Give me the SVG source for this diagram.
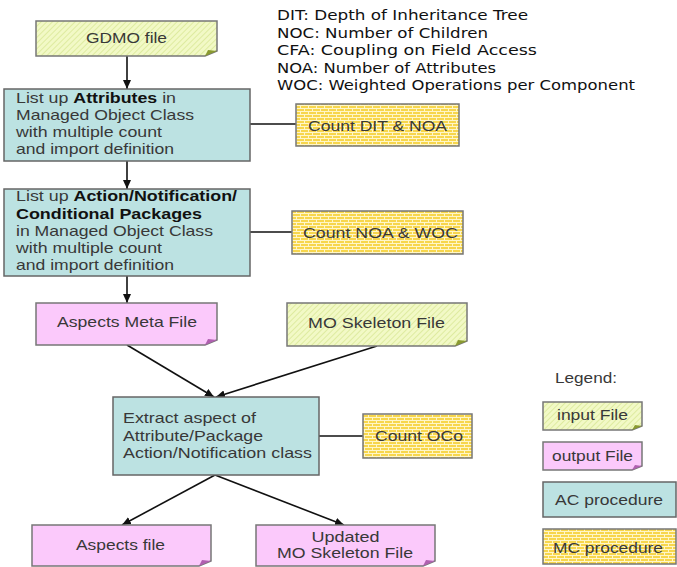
<svg xmlns="http://www.w3.org/2000/svg" width="677" height="567" viewBox="0 0 677 567">
<defs>
<pattern id="hatch" width="4" height="4" patternUnits="userSpaceOnUse" patternTransform="rotate(45)">
<rect width="4" height="4" fill="#f2f9c6"/>
<line x1="0" y1="0" x2="0" y2="4" stroke="#d6e690" stroke-width="1.4"/>
</pattern>
<pattern id="brick" width="8" height="6" patternUnits="userSpaceOnUse">
<rect width="8" height="6" fill="#f7d64c"/>
<line x1="0" y1="0.5" x2="8" y2="0.5" stroke="#fff6c8" stroke-width="1"/>
<line x1="0" y1="3.5" x2="8" y2="3.5" stroke="#fff6c8" stroke-width="1"/>
<line x1="0.5" y1="0" x2="0.5" y2="3" stroke="#fff6c8" stroke-width="1"/>
<line x1="4.5" y1="3" x2="4.5" y2="6" stroke="#fff6c8" stroke-width="1"/>
</pattern>
<marker id="arr" markerWidth="9" markerHeight="8" refX="9" refY="4" orient="auto" markerUnits="userSpaceOnUse">
<path d="M0,0 L9,4 L0,8 Z" fill="#111"/>
</marker>
</defs>
<style>
.t{font-family:"Liberation Sans",Arial,sans-serif;font-size:15px;fill:#383838}
.c{text-anchor:middle}
.b{font-weight:bold;fill:#111}
.leg{font-family:"DejaVu Sans","Liberation Sans",sans-serif;font-size:14px;fill:#111}
.ac{fill:#bce2e2;stroke:#666;stroke-width:1.5}
.mc{fill:url(#brick);stroke:#777;stroke-width:1.5}
.in{fill:url(#hatch);stroke:#777;stroke-width:1.5}
.out{fill:#fbc9fb;stroke:#777;stroke-width:1.5}
.fin{fill:#8a9a30}
.fout{fill:#b060b0}
.ln{stroke:#111;stroke-width:1.6;fill:none}
</style>
<rect width="677" height="567" fill="#fff"/>

<g id="abbrev">
<text class="leg" x="277" y="20" textLength="251" lengthAdjust="spacingAndGlyphs">DIT: Depth of Inheritance Tree</text>
<text class="leg" x="277" y="37.5" textLength="211" lengthAdjust="spacingAndGlyphs">NOC: Number of Children</text>
<text class="leg" x="277" y="55" textLength="260" lengthAdjust="spacingAndGlyphs">CFA: Coupling on Field Access</text>
<text class="leg" x="277" y="72.5" textLength="219" lengthAdjust="spacingAndGlyphs">NOA: Number of Attributes</text>
<text class="leg" x="277" y="90" textLength="358" lengthAdjust="spacingAndGlyphs">WOC: Weighted Operations per Component</text>
</g>

<g id="connectors">
<line class="ln" x1="127" y1="56" x2="127" y2="89" marker-end="url(#arr)"/>
<line class="ln" x1="127" y1="161" x2="127" y2="189" marker-end="url(#arr)"/>
<line class="ln" x1="127" y1="276" x2="127" y2="303" marker-end="url(#arr)"/>
<line class="ln" x1="127" y1="345" x2="214" y2="397" marker-end="url(#arr)"/>
<line class="ln" x1="377" y1="346" x2="216" y2="397" marker-end="url(#arr)"/>
<line class="ln" x1="250" y1="124" x2="296" y2="124"/>
<line class="ln" x1="250" y1="232" x2="292" y2="232"/>
<line class="ln" x1="319" y1="436" x2="363" y2="436"/>
<line class="ln" x1="215" y1="475" x2="122" y2="525" marker-end="url(#arr)"/>
<line class="ln" x1="215" y1="475" x2="344" y2="525" marker-end="url(#arr)"/>
</g>

<g id="gdmo">
<path class="in" d="M36,21 H217 V51 L205,56 H36 Z"/>
<path class="fin" d="M217,51 L205,56 L208,50 Z"/>
<text class="t c" x="126.5" y="43" textLength="81" lengthAdjust="spacingAndGlyphs">GDMO file</text>
</g>

<g id="attr">
<rect class="ac" x="4" y="89" width="246" height="72"/>
<text class="t" x="16" y="103" textLength="160" lengthAdjust="spacingAndGlyphs">List up <tspan class="b">Attributes</tspan> in</text>
<text class="t" x="16" y="120" textLength="178" lengthAdjust="spacingAndGlyphs">Managed Object Class</text>
<text class="t" x="16" y="137" textLength="146" lengthAdjust="spacingAndGlyphs">with multiple count</text>
<text class="t" x="16" y="154" textLength="158" lengthAdjust="spacingAndGlyphs">and import definition</text>
</g>

<g id="count1">
<rect class="mc" x="296" y="104" width="163" height="42"/>
<text class="t c" x="377.5" y="131" textLength="139" lengthAdjust="spacingAndGlyphs">Count DIT &amp; NOA</text>
</g>

<g id="pkg">
<rect class="ac" x="4" y="189" width="246" height="87"/>
<text class="t" x="16" y="201" textLength="221" lengthAdjust="spacingAndGlyphs">List up <tspan class="b">Action/Notification/</tspan></text>
<text class="t b" x="16" y="219" textLength="186" lengthAdjust="spacingAndGlyphs">Conditional Packages</text>
<text class="t" x="16" y="236" textLength="197" lengthAdjust="spacingAndGlyphs">in Managed Object Class</text>
<text class="t" x="16" y="253" textLength="146" lengthAdjust="spacingAndGlyphs">with multiple count</text>
<text class="t" x="16" y="270" textLength="158" lengthAdjust="spacingAndGlyphs">and import definition</text>
</g>

<g id="count2">
<rect class="mc" x="292" y="211" width="171" height="43"/>
<text class="t c" x="380.5" y="238" textLength="155" lengthAdjust="spacingAndGlyphs">Count NOA &amp; WOC</text>
</g>

<g id="meta">
<path class="out" d="M36,303 H217 V340 L205,345 H36 Z"/>
<path class="fout" d="M217,340 L205,345 L208,339 Z"/>
<text class="t c" x="127" y="327" textLength="140" lengthAdjust="spacingAndGlyphs">Aspects Meta File</text>
</g>

<g id="moskel">
<path class="in" d="M287,303 H467 V341 L455,346 H287 Z"/>
<path class="fin" d="M467,341 L455,346 L458,340 Z"/>
<text class="t c" x="376.5" y="328" textLength="137" lengthAdjust="spacingAndGlyphs">MO Skeleton File</text>
</g>

<g id="extract">
<rect class="ac" x="113" y="397" width="206" height="78"/>
<text class="t" x="123" y="423" textLength="133" lengthAdjust="spacingAndGlyphs">Extract aspect of</text>
<text class="t" x="123" y="441" textLength="140" lengthAdjust="spacingAndGlyphs">Attribute/Package</text>
<text class="t" x="123" y="458" textLength="189" lengthAdjust="spacingAndGlyphs">Action/Notification class</text>
</g>

<g id="oco">
<rect class="mc" x="363" y="414" width="109" height="44"/>
<text class="t c" x="419" y="441" textLength="88" lengthAdjust="spacingAndGlyphs">Count OCo</text>
</g>

<g id="aspects">
<path class="out" d="M32,525 H211 V561 L199,566 H32 Z"/>
<path class="fout" d="M211,561 L199,566 L202,560 Z"/>
<text class="t c" x="120.5" y="550" textLength="89" lengthAdjust="spacingAndGlyphs">Aspects file</text>
</g>

<g id="updated">
<path class="out" d="M256,525 H435 V561 L423,566 H256 Z"/>
<path class="fout" d="M435,561 L423,566 L426,560 Z"/>
<text class="t c" x="345.5" y="542" textLength="68" lengthAdjust="spacingAndGlyphs">Updated</text>
<text class="t c" x="345" y="558" textLength="136" lengthAdjust="spacingAndGlyphs">MO Skeleton File</text>
</g>

<g id="legend">
<text class="t" x="555" y="383" textLength="62" lengthAdjust="spacingAndGlyphs">Legend:</text>
<g id="leg-input">
<path class="in" d="M543,402 H642 V426 L632,430 H543 Z"/>
<path class="fin" d="M642,426 L632,430 L635,425 Z"/>
<text class="t" x="557" y="420" textLength="71" lengthAdjust="spacingAndGlyphs">input File</text>
</g>
<g id="leg-output">
<path class="out" d="M543,442 H642 V466 L632,470 H543 Z"/>
<path class="fout" d="M642,466 L632,470 L635,465 Z"/>
<text class="t" x="552" y="461" textLength="81" lengthAdjust="spacingAndGlyphs">output File</text>
</g>
<g id="leg-ac">
<rect class="ac" x="543" y="482" width="133" height="35"/>
<text class="t" x="555" y="505" textLength="108" lengthAdjust="spacingAndGlyphs">AC procedure</text>
</g>
<g id="leg-mc">
<rect class="mc" x="543" y="529" width="133" height="35"/>
<text class="t" x="553" y="553" textLength="110" lengthAdjust="spacingAndGlyphs">MC procedure</text>
</g>
</g>
</svg>
